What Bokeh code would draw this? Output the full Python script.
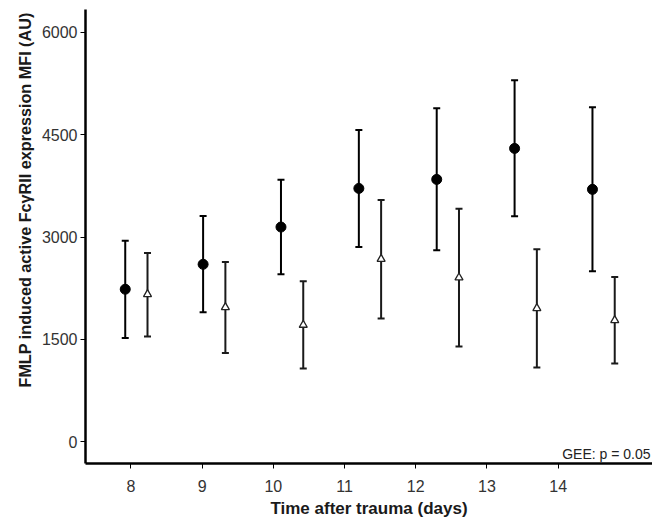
from bokeh.plotting import figure
from bokeh.models import (ColumnDataSource, Range1d, LinearAxis, FixedTicker,
                          Whisker, TeeHead, Label, Title)
from bokeh.embed import file_html
from bokeh.resources import INLINE

# ---- data ----
days = [8, 9, 10, 11, 12, 13, 14]
x_ticks = [8, 9, 10, 11, 12, 13, 14]
y_ticks = [0, 1500, 3000, 4500, 6000]

grp1_mean = [2235, 2600, 3146, 3712, 3844, 4298, 3698]
grp1_upper = [2946, 3307, 3839, 4566, 4888, 5298, 4902]
grp1_lower = [1522, 1898, 2454, 2854, 2805, 3303, 2498]

grp2_mean = [2161, 1971, 1712, 2678, 2405, 1956, 1780]
grp2_upper = [2766, 2634, 2351, 3541, 3415, 2820, 2415]
grp2_lower = [1541, 1302, 1073, 1805, 1395, 1088, 1146]

offset = 0.143
FONT = "Liberation Sans"

src1 = ColumnDataSource(dict(x=[d - offset for d in days], y=grp1_mean,
                             upper=grp1_upper, lower=grp1_lower))
src2 = ColumnDataSource(dict(x=[d + offset for d in days], y=grp2_mean,
                             upper=grp2_upper, lower=grp2_lower))

p = figure(width=652, height=520, output_backend="svg", toolbar_location=None,
           x_range=Range1d(7.362, 15.325), y_range=Range1d(-318, 6333),
           x_axis_location=None, y_axis_location=None,
           min_border_left=85, min_border_right=0, min_border_top=9,
           min_border_bottom=57)
p.extra_x_ranges = {"data": Range1d(7.3467, 14.628)}
p.grid.visible = False
p.outline_line_color = None
p.background_fill_color = "white"
p.border_fill_color = "white"

# axes
yaxis = LinearAxis(ticker=FixedTicker(ticks=y_ticks))
xaxis = LinearAxis(ticker=FixedTicker(ticks=x_ticks),
                   axis_label="Time after trauma (days)")
for ax in (xaxis, yaxis):
    ax.axis_line_width = 2.5
    ax.axis_line_color = "black"
    ax.major_tick_line_color = "black"
    ax.major_tick_line_width = 1
    ax.major_tick_out = 5
    ax.major_tick_in = 0
    ax.minor_tick_line_color = None
    ax.major_label_text_font = FONT
    ax.major_label_text_font_size = "16px"
    ax.major_label_text_color = "#333333"
xaxis.major_label_standoff = 11
xaxis.axis_label_standoff = 4
xaxis.axis_label_text_font = FONT
xaxis.axis_label_text_font_size = "17px"
xaxis.axis_label_text_font_style = "bold"
xaxis.axis_label_text_color = "#1a1a1a"
yaxis.major_label_standoff = 3
p.add_layout(yaxis, "left")
p.add_layout(xaxis, "below")

ytitle = Title(text="FMLP induced active FcγRII expression MFI (AU)",
               align="left", offset=76, standoff=10,
               text_font=FONT, text_font_size="16.2px",
               text_font_style="bold", text_color="#1a1a1a")
p.add_layout(ytitle, "left")

# error bars
for src, col in ((src1, "black"), (src2, "#1a1a1a")):
    w = Whisker(source=src, base="x", upper="upper", lower="lower",
                x_range_name="data", line_width=2, line_color=col,
                upper_head=TeeHead(size=7, line_width=2, line_color=col),
                lower_head=TeeHead(size=7, line_width=2, line_color=col))
    p.add_layout(w)

p.scatter("x", "y", source=src1, x_range_name="data", marker="circle",
          size=10, fill_color="black", line_color="black")
p.scatter("x", "y", source=src2, x_range_name="data", marker="triangle",
          size=8, fill_color="white", line_color="#222222", line_width=1.3)

gee = Label(x=565, y=10, x_units="screen", y_units="screen",
            text="GEE: p = 0.05", text_align="right",
            text_baseline="alphabetic", text_font=FONT,
            text_font_size="14px", text_color="#222222")
p.add_layout(gee)

open("out.html", "w").write(file_html(p, INLINE))
